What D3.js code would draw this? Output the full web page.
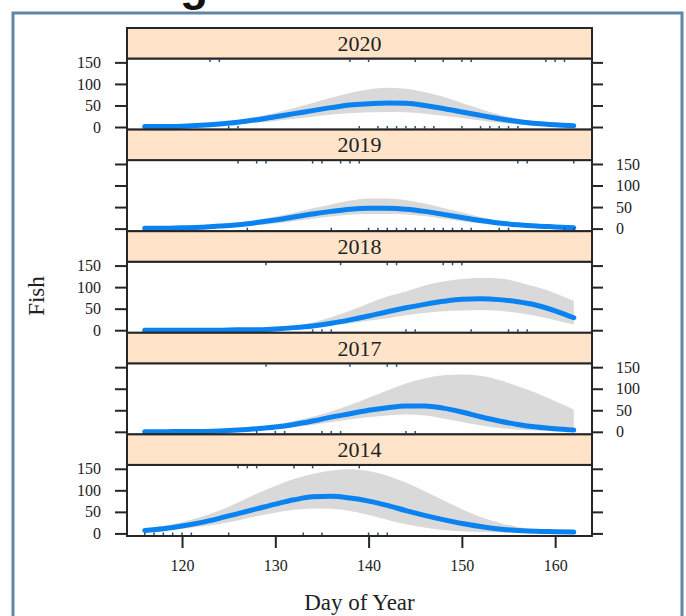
<!DOCTYPE html>
<html>
<head>
<meta charset="utf-8">
<script src="https://cdn.jsdelivr.net/npm/d3@7"></script>
<style>
  html, body { margin: 0; padding: 0; background: #ffffff; }
  svg { display: block; }
  text { font-family: "Liberation Serif", "Times New Roman", serif; fill: #222; }
</style>
</head>
<body>
<svg id="chart" width="686" height="616"></svg>
<script>
// Smoothed daily fish counts by year: fitted curve with its confidence band.
const years = ["2020", "2019", "2018", "2017", "2014"];
const days = [116, 118, 120, 122, 124, 126, 128, 130, 132, 134, 136, 138,
              140, 142, 144, 146, 148, 150, 152, 154, 156, 158, 160, 162];

const fit2020   = [1, 1, 2, 4, 7, 11, 17, 24, 31, 38, 45, 51, 54, 56, 55, 50, 43, 35, 27, 19, 13, 8, 5, 3];
const lower2020 = [0, 0, 1, 2, 4, 7, 10, 14, 19, 24, 29, 32, 34, 35, 34, 31, 26, 21, 15, 10, 6, 3, 2, 1];
const upper2020 = [2, 3, 4, 7, 11, 16, 24, 33, 44, 56, 68, 79, 87, 91, 89, 81, 70, 56, 42, 29, 19, 12, 7, 5];

const fit2019   = [1, 1, 2, 3, 6, 9, 14, 20, 27, 34, 40, 45, 47, 47, 45, 40, 33, 26, 19, 13, 9, 6, 4, 2];
const lower2019 = [0, 0, 1, 2, 3, 5, 8, 12, 17, 23, 28, 32, 34, 34, 33, 29, 23, 17, 12, 8, 5, 3, 2, 1];
const upper2019 = [2, 2, 3, 5, 9, 13, 20, 28, 37, 47, 56, 65, 70, 70, 66, 58, 48, 38, 27, 18, 12, 8, 5, 4];

const fit2018   = [0, 0, 0, 0, 0, 1, 1, 3, 6, 10, 16, 24, 33, 43, 52, 60, 67, 72, 73, 71, 66, 58, 45, 29];
const lower2018 = [0, 0, 0, 0, 0, 0, 1, 2, 4, 7, 11, 16, 22, 28, 35, 40, 44, 46, 47, 45, 40, 33, 23, 13];
const upper2018 = [0, 0, 0, 0, 1, 2, 3, 5, 10, 18, 30, 45, 62, 78, 90, 104, 113, 119, 121, 120, 112, 100, 86, 68];

const fit2017   = [0, 0, 1, 1, 2, 4, 7, 11, 17, 25, 34, 42, 50, 56, 60, 60, 55, 46, 35, 25, 17, 11, 7, 4];
const lower2017 = [0, 0, 0, 1, 1, 2, 4, 7, 11, 16, 22, 29, 34, 38, 40, 38, 31, 23, 15, 9, 5, 3, 1, 1];
const upper2017 = [1, 1, 2, 2, 4, 7, 11, 17, 25, 35, 47, 62, 79, 96, 112, 124, 131, 133, 130, 120, 106, 90, 71, 52];

const fit2014   = [7, 11, 17, 25, 35, 46, 57, 68, 78, 85, 86, 82, 75, 65, 53, 42, 32, 23, 16, 10, 7, 5, 4, 3];
const lower2014 = [4, 7, 11, 16, 22, 30, 40, 48, 55, 58, 57, 52, 43, 32, 21, 14, 8, 5, 3, 2, 1, 1, 1, 1];
const upper2014 = [11, 17, 26, 38, 53, 72, 92, 110, 126, 138, 146, 149, 145, 134, 118, 98, 77, 56, 38, 25, 15, 9, 6, 5];

// Survey days marked along the top and bottom edges of each panel.
const rugTop2020 = [123, 124, 138, 140, 145, 148, 150, 151, 159, 160, 161];
const rugBot2020 = [125, 126, 139, 141, 142, 143, 144, 145, 146, 147, 150, 152, 153, 154, 155, 156];
const rugTop2019 = [126, 128, 129, 134, 135, 137, 138, 139, 156, 157, 162];
const rugBot2019 = [127, 136, 140, 141, 142, 143, 144, 145, 146, 147, 148, 149, 150, 151, 154, 155, 161, 162];
const rugTop2018 = [129, 137, 142, 143, 148, 149, 150];
const rugBot2018 = [134, 135, 136, 144, 145, 151, 155, 156, 157];
const rugTop2017 = [129, 138, 142, 143];
const rugBot2017 = [128, 130, 131, 135, 136, 137, 144, 145];
const rugTop2014 = [126, 127, 128, 132, 134, 139];
const rugBot2014 = [116, 117, 118, 119, 120, 121, 125, 133, 135, 140, 141, 142];

const yTicks = [0, 50, 100, 150];
const xTicks = [120, 130, 140, 150, 160];

const series = [
  { year: "2020", fit: fit2020, lower: lower2020, upper: upper2020, rugTop: rugTop2020, rugBot: rugBot2020 },
  { year: "2019", fit: fit2019, lower: lower2019, upper: upper2019, rugTop: rugTop2019, rugBot: rugBot2019 },
  { year: "2018", fit: fit2018, lower: lower2018, upper: upper2018, rugTop: rugTop2018, rugBot: rugBot2018 },
  { year: "2017", fit: fit2017, lower: lower2017, upper: upper2017, rugTop: rugTop2017, rugBot: rugBot2017 },
  { year: "2014", fit: fit2014, lower: lower2014, upper: upper2014, rugTop: rugTop2014, rugBot: rugBot2014 }
];

const svg = d3.select("#chart");

// Outer frame
svg.append("rect")
  .attr("x", 13).attr("y", 13).attr("width", 669).attr("height", 640)
  .attr("fill", "#ffffff").attr("stroke", "#5f86a8").attr("stroke-width", 3);

// Heading above the frame (runs off the top edge)
svg.append("text")
  .attr("x", 208).attr("y", 0)
  .attr("text-anchor", "end")
  .style("font-family", "'Liberation Sans', Arial, sans-serif")
  .style("font-weight", "bold").style("font-size", "46px").style("fill", "#111")
  .text("Timing");

const plotLeft = 127, plotRight = 592, plotTop = 28;
const unit = 101.6, stripH = 30.5, panelH = unit - stripH;

const x = d3.scaleLinear().domain([114.1, 163.95]).range([plotLeft, plotRight]);
const rowScale = d3.scaleBand().domain(years).range([plotTop, plotTop + unit * years.length]).padding(0);

const area = d3.area().curve(d3.curveMonotoneX);
const line = d3.line().curve(d3.curveMonotoneX);

series.forEach((s, i) => {
  const y0 = rowScale(s.year);
  const pTop = y0 + stripH, pBot = y0 + unit;
  const y = d3.scaleLinear().domain([-6, 159]).range([pBot, pTop]);
  const g = svg.append("g");

  // confidence band
  g.append("path")
    .attr("d", area.x((d, j) => x(days[j])).y0((d, j) => y(s.lower[j])).y1((d, j) => y(s.upper[j]))(days))
    .attr("fill", "#d9d9d9");

  // fitted curve
  g.append("path")
    .attr("d", line.x((d, j) => x(days[j])).y((d, j) => y(s.fit[j]))(days))
    .attr("fill", "none").attr("stroke", "#0a82f0").attr("stroke-width", 5)
    .attr("stroke-linecap", "round");

  // rug marks
  g.selectAll(".rt").data(s.rugTop).join("line")
    .attr("x1", d => x(d)).attr("x2", d => x(d))
    .attr("y1", pTop + 1).attr("y2", pTop + 3.5)
    .attr("stroke", "#24507e").attr("stroke-width", 1.5);
  g.selectAll(".rb").data(s.rugBot).join("line")
    .attr("x1", d => x(d)).attr("x2", d => x(d))
    .attr("y1", pBot - 1).attr("y2", pBot - 3.5)
    .attr("stroke", "#24507e").attr("stroke-width", 1.5);

  // panel frame
  g.append("rect")
    .attr("x", plotLeft).attr("y", pTop).attr("width", plotRight - plotLeft).attr("height", panelH)
    .attr("fill", "none").attr("stroke", "#262626").attr("stroke-width", 2);

  // strip
  g.append("rect")
    .attr("x", plotLeft).attr("y", y0).attr("width", plotRight - plotLeft).attr("height", stripH)
    .attr("fill", "#ffe4ca").attr("stroke", "#262626").attr("stroke-width", 2);
  g.append("text")
    .attr("x", (plotLeft + plotRight) / 2).attr("y", y0 + stripH / 2 + 7.5)
    .attr("text-anchor", "middle").style("font-size", "22px")
    .text(s.year);

  // y axes on both sides; labels alternate sides
  const labelsLeft = i % 2 === 0;
  const axL = d3.axisLeft(y).tickValues(yTicks).tickSize(12).tickPadding(14)
    .tickFormat(labelsLeft ? d3.format("d") : () => "");
  const axR = d3.axisRight(y).tickValues(yTicks).tickSize(11).tickPadding(13)
    .tickFormat(labelsLeft ? () => "" : d3.format("d"));
  const gl = g.append("g").attr("transform", `translate(${plotLeft},0)`).call(axL);
  const gr = g.append("g").attr("transform", `translate(${plotRight},0)`).call(axR);
  [gl, gr].forEach(a => {
    a.attr("font-family", "'Liberation Serif', serif");
    a.select(".domain").remove();
    a.selectAll(".tick line").attr("stroke", "#262626").attr("stroke-width", 2);
    a.selectAll(".tick text").style("font-size", "16px")
      .style("font-family", "'Liberation Serif', serif").attr("fill", "#333");
  });

  if (i === series.length - 1) {
    const ax = d3.axisBottom(x).tickValues(xTicks).tickSize(12).tickPadding(12).tickFormat(d3.format("d"));
    const gx = g.append("g").attr("transform", `translate(0,${pBot})`).call(ax);
    gx.attr("font-family", "'Liberation Serif', serif");
    gx.select(".domain").remove();
    gx.selectAll(".tick line").attr("stroke", "#262626").attr("stroke-width", 2);
    gx.selectAll(".tick text").style("font-size", "16px")
      .style("font-family", "'Liberation Serif', serif").attr("fill", "#333");
  }
});

// Axis titles
svg.append("text")
  .attr("x", (plotLeft + plotRight) / 2).attr("y", 610)
  .attr("text-anchor", "middle").style("font-size", "23px")
  .text("Day of Year");

svg.append("text")
  .attr("transform", "translate(44,296) rotate(-90)")
  .attr("text-anchor", "middle").style("font-size", "23px")
  .text("Fish");
</script>
</body>
</html>
